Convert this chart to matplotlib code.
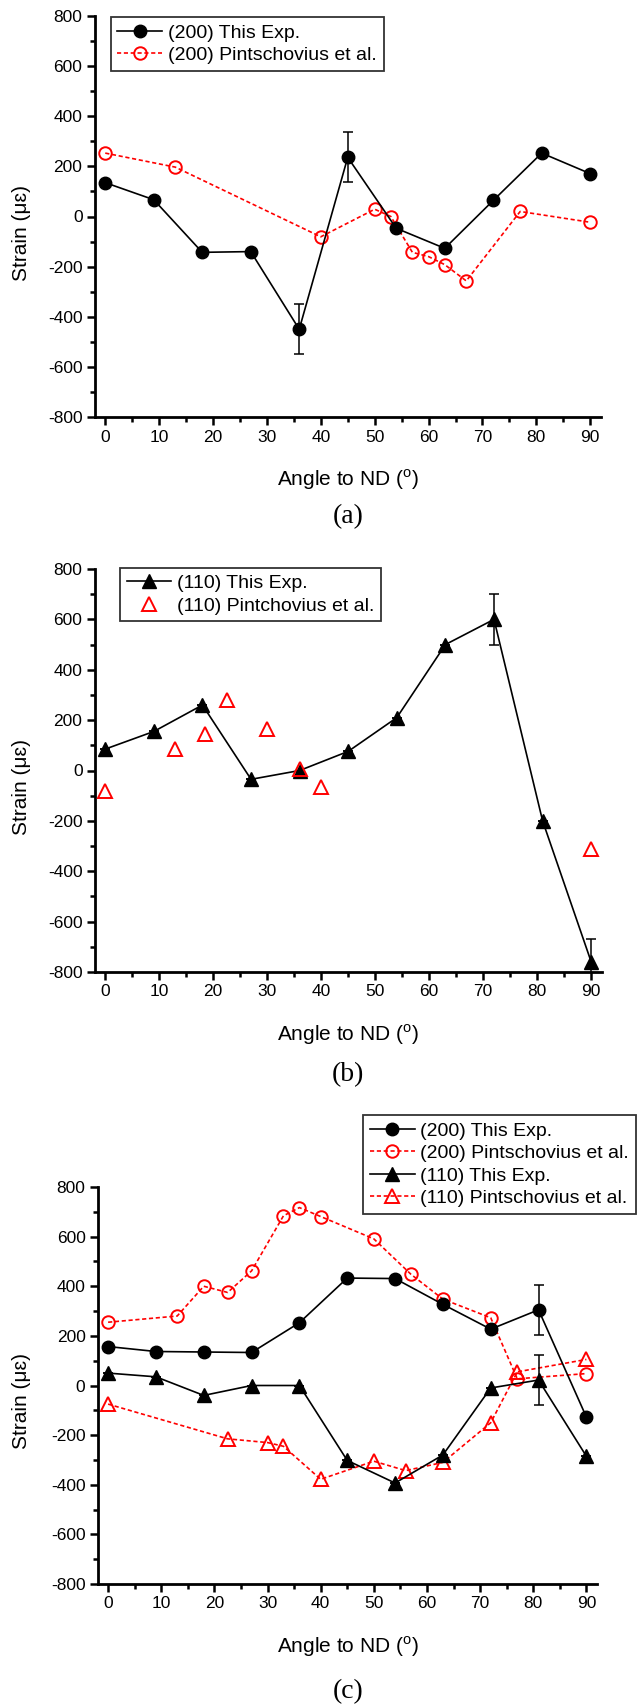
import matplotlib
matplotlib.use('Agg')
import matplotlib.pyplot as plt
from matplotlib.ticker import MultipleLocator

plt.rcParams['font.family'] = ['Liberation Sans', 'DejaVu Sans']
plt.rcParams['mathtext.fontset'] = 'custom'
plt.rcParams['mathtext.rm'] = 'Liberation Sans'
plt.rcParams['axes.unicode_minus'] = False

# Panel (a): (200) reflections
a_exp_x = [0, 9, 18, 27, 36, 45, 54, 63, 72, 81, 90]
a_exp_y = [135, 67, -143, -140, -450, 236, -47, -127, 64, 253, 171]
a_exp_err = [0, 0, 0, 0, 100, 100, 0, 0, 0, 0, 0]
a_lit_x = [0, 13, 40, 50, 53, 57, 60, 63, 67, 77, 90]
a_lit_y = [253, 197, -81, 29, 0, -143, -160, -192, -257, 20, -23]

# Panel (b): (110) reflections
b_exp_x = [0, 9, 18, 27, 36, 45, 54, 63, 72, 81, 90]
b_exp_y = [85, 155, 260, -35, 0, 76, 210, 500, 600, -200, -760]
b_exp_err = [0, 0, 0, 0, 0, 0, 0, 0, 100, 0, 90]
b_lit_x = [0, 13, 18.5, 22.5, 30, 36, 40, 90]
b_lit_y = [-80, 85, 145, 280, 165, 5, -67, -313]

# Panel (c): both reflections, another direction
c200_exp_x = [0, 9, 18, 27, 36, 45, 54, 63, 72, 81, 90]
c200_exp_y = [157, 137, 135, 133, 253, 433, 431, 327, 227, 305, -127]
c200_exp_err = [0, 0, 0, 0, 0, 0, 0, 0, 0, 100, 0]
c200_lit_x = [0, 13, 18, 22.5, 27, 33, 36, 40, 50, 57, 63, 72, 77, 90]
c200_lit_y = [255, 280, 400, 375, 462, 684, 717, 681, 591, 448, 348, 273, 27, 48]
c110_exp_x = [0, 9, 18, 27, 36, 45, 54, 63, 72, 81, 90]
c110_exp_y = [50, 35, -40, 0, 0, -302, -393, -280, -10, 22, -285]
c110_exp_err = [0, 0, 0, 0, 0, 0, 0, 0, 0, 100, 0]
c110_lit_x = [0, 22.5, 30, 33, 40, 50, 56, 63, 72, 77, 90]
c110_lit_y = [-75, -215, -230, -245, -378, -305, -343, -310, -150, 55, 105]

W, H = 640, 1707
fig = plt.figure(figsize=(W / 100, H / 100), dpi=100)

def px_axes(left, top, right, bottom):
    return fig.add_axes([left / W, 1 - bottom / H, (right - left) / W, (bottom - top) / H])

def style(ax, left, top, bottom, letter, gap):
    ax.set_xlim(-1.9, 92)
    ax.set_ylim(-800, 800)
    ax.xaxis.set_major_locator(MultipleLocator(10))
    ax.xaxis.set_minor_locator(MultipleLocator(5))
    ax.yaxis.set_major_locator(MultipleLocator(200))
    ax.yaxis.set_minor_locator(MultipleLocator(100))
    for s in ['top', 'right']:
        ax.spines[s].set_visible(False)
    for s in ['left', 'bottom']:
        ax.spines[s].set_linewidth(2.0)
    ax.tick_params(which='major', direction='out', length=6, width=1.8, labelsize=12.5, pad=3)
    ax.tick_params(which='minor', direction='out', length=3.7, width=1.8)
    fig.text(22 / W, 1 - (top + (bottom - top) * 0.54) / H, 'Strain (μɛ)', rotation=90,
             ha='center', va='center', fontsize=15)
    fig.text(348 / W, 1 - (bottom + 63) / H, r'Angle to ND ($^{\rm o}$)', ha='center', va='center', fontsize=15)
    fig.text(348 / W, 1 - (bottom + gap) / H, letter, ha='center', va='center', fontsize=20,
             family='Liberation Serif')

def legend(ax, handles, **kw):
    leg = ax.legend(handles=handles, fontsize=14, frameon=True, fancybox=False, edgecolor='black',
                    borderaxespad=0, handlelength=2.3, handletextpad=0.3, labelspacing=0.25,
                    borderpad=0.35, **kw)
    leg.get_frame().set_linewidth(1.3)

bar = dict(fmt='none', ecolor='black', capsize=3.5, elinewidth=1.1, capthick=1.1, zorder=3)
black = dict(color='black', lw=1.2, zorder=3)
red_dash = dict(color='red', lw=1.2, dashes=(2.5, 1.6), mfc='none', mec='red', mew=1.4, zorder=2)

# (a)
ax = px_axes(95, 16, 601, 417)
style(ax, 95, 16, 417, '(a)', 100)
r1, = ax.plot(a_lit_x, a_lit_y, marker='o', ms=9, label='(200) Pintschovius et al.', **red_dash)
ax.errorbar(a_exp_x, a_exp_y, yerr=a_exp_err, **bar)
k1, = ax.plot(a_exp_x, a_exp_y, marker='o', ms=9, label='(200) This Exp.', **black)
legend(ax, [k1, r1], loc='upper left', bbox_to_anchor=(0.031, 0.997))

# (b)
ax = px_axes(95, 569, 602, 972)
style(ax, 95, 569, 972, '(b)', 103)
ax.errorbar(b_exp_x, b_exp_y, yerr=b_exp_err, **bar)
k1, = ax.plot(b_exp_x, b_exp_y, marker='^', ms=9.5, label='(110) This Exp.', **black)
r1, = ax.plot(b_lit_x, b_lit_y, ls='none', marker='^', ms=9.5, mfc='none', mec='red', mew=1.4,
              label='(110) Pintchovius et al.', zorder=4)
legend(ax, [k1, r1], loc='upper left', bbox_to_anchor=(0.049, 1.003))

# (c)
ax = px_axes(98, 1187, 597, 1584)
style(ax, 98, 1187, 1584, '(c)', 108)
ax.errorbar(c200_exp_x, c200_exp_y, yerr=c200_exp_err, **bar)
l1, = ax.plot(c200_exp_x, c200_exp_y, marker='o', ms=9, label='(200) This Exp.', **black)
l2, = ax.plot(c200_lit_x, c200_lit_y, marker='o', ms=9, label='(200) Pintschovius et al.', **red_dash)
ax.errorbar(c110_exp_x, c110_exp_y, yerr=c110_exp_err, **bar)
l3, = ax.plot(c110_exp_x, c110_exp_y, marker='^', ms=9.5, label='(110) This Exp.', **black)
l4, = ax.plot(c110_lit_x, c110_lit_y, marker='^', ms=9.5, label='(110) Pintschovius et al.', **red_dash)
legend(ax, [l1, l2, l3, l4], loc='upper right', bbox_to_anchor=(1.078, 1.181))

fig.savefig('out.png', dpi=100)
